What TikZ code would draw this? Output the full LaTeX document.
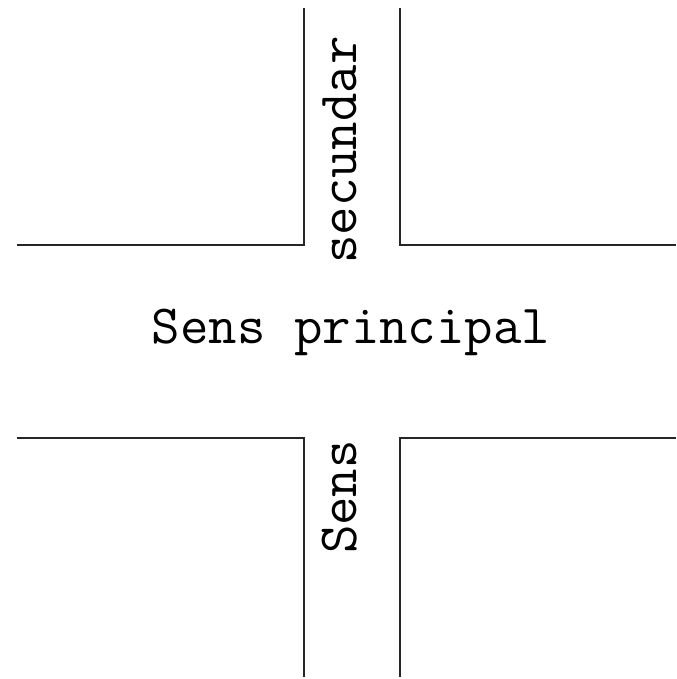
\documentclass[tikz,border=0pt]{standalone}
\usetikzlibrary{positioning}

\begin{document}
\begin{tikzpicture}[x=0.01cm,y=-0.01cm,
    road/.style={line width=0.55pt,black!85},
    sign/.style={font=\ttfamily\fontsize{15.7}{18}\selectfont,inner sep=0pt,anchor=base}]

    \useasboundingbox (0,0) rectangle (677,679);

    % Kerb corners of the crossing
    \draw [road] (17,245) -- (304,245) -- (304,8);
    \draw [road] (400,8) -- (400,245) -- (676,245);
    \draw [road] (17,438) -- (304,438) -- (304,677);
    \draw [road] (676,438) -- (400,438) -- (400,677);

    % Street names
    \node [sign] (main) at (351,343) {Sens principal};
    \node [sign,rotate=90] (sec) at (356,150) {secundar};
    \node [sign,rotate=90] (sens) at (356,497) {Sens};

\end{tikzpicture}
\end{document}
